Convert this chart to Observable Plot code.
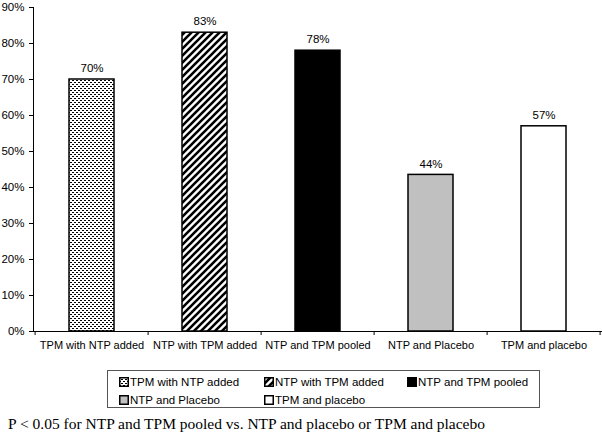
<!DOCTYPE html>
<html>
<head>
<meta charset="utf-8">
<script src="https://cdn.jsdelivr.net/npm/d3@7"></script>
<script src="https://cdn.jsdelivr.net/npm/@observablehq/plot@0.6"></script>
<style>
  html, body { margin: 0; padding: 0; background: #fff; }
  #wrap { position: relative; width: 602px; height: 437px; overflow: hidden; font-family: "Liberation Sans", Arial, sans-serif; }
  #chart { position: absolute; left: 0; top: 0; }
  #legend { position: absolute; left: 107px; top: 370px; width: 433px; height: 38px; border: 1px solid #555; box-sizing: border-box; }
  .item { position: absolute; font-size: 11.5px; line-height: 14px; color: #000; white-space: nowrap; }
  .item svg { vertical-align: -1px; margin-right: 1px; }
  #note { position: absolute; left: 8px; top: 415px; font-family: "Liberation Serif", "Times New Roman", serif; font-size: 15.5px; line-height: 18px; color: #000; white-space: nowrap; }
</style>
</head>
<body>
<svg width="0" height="0" style="position:absolute">
  <defs>
    <pattern id="pDots" patternUnits="userSpaceOnUse" width="4" height="4">
      <rect width="4" height="4" fill="#fff"/>
      <rect x="0" y="0" width="2" height="1" fill="#000"/>
      <rect x="2" y="2" width="2" height="1" fill="#000"/>
    </pattern>
    <pattern id="pDiag" patternUnits="userSpaceOnUse" width="7" height="7">
      <rect width="7" height="7" fill="#fff"/>
      <path d="M-1,1 l2,-2 M0,7 l7,-7 M6,8 l2,-2" stroke="#000" stroke-width="2.6"/>
    </pattern>
  </defs>
</svg>
<div id="wrap">
  <div id="chart"></div>
  <div id="legend"></div>
  <div id="note">P &lt; 0.05 for NTP and TPM pooled vs. NTP and placebo or TPM and placebo</div>
</div>
<script>
const categories = ["TPM with NTP added", "NTP with TPM added", "NTP and TPM pooled", "NTP and Placebo", "TPM and placebo"];
const values = [0.70, 0.83, 0.78, 0.435, 0.57];
const valueLabels = ["70%", "83%", "78%", "44%", "57%"];
const fills = ["url(#pDots)", "url(#pDiag)", "#000000", "#c0c0c0", "#ffffff"];
const yTicks = [0, 0.1, 0.2, 0.3, 0.4, 0.5, 0.6, 0.7, 0.8, 0.9];
const yTickLabels = ["0%", "10%", "20%", "30%", "40%", "50%", "60%", "70%", "80%", "90%"];

const data = categories.map((c, i) => ({cat: c, value: values[i], label: valueLabels[i], fill: fills[i]}));

const chart = Plot.plot({
  width: 602,
  height: 360,
  marginLeft: 33,
  marginRight: 0,
  marginTop: 7,
  marginBottom: 29,
  style: {fontFamily: "'Liberation Sans', Arial, sans-serif", fontSize: "11px", color: "#000", background: "transparent", overflow: "visible"},
  x: {domain: categories, paddingInner: 0.6, paddingOuter: 0.3, axis: null},
  y: {domain: [0, 0.9], axis: null},
  color: {type: "identity"},
  marks: [
    Plot.barY(data, {x: "cat", y: "value", fill: "fill", stroke: "#000", strokeWidth: 1.5}),
    Plot.text(data, {x: "cat", y: "value", text: "label", dy: -11, fontSize: 11.5}),
    Plot.axisY(yTicks, {tickFormat: (d, i) => yTickLabels[i], tickSize: 4, tickPadding: 5, label: null, fontSize: 11.5}),
    Plot.axisX(categories, {tickSize: 0, tickPadding: 10, label: null, fontSize: 11}),
    Plot.frame({anchor: "left", stroke: "#000"}),
    Plot.frame({anchor: "bottom", stroke: "#000"})
  ]
});
document.getElementById("chart").appendChild(chart);

// band boundary ticks on the x axis
const xs = chart.scale("x");
const step = xs.step;
const x0 = xs.apply(categories[0]) - step * 0.3;
const svg = d3.select(chart);
const yb = 360 - 29;
for (let k = 0; k <= categories.length; k++) {
  const xx = Math.min(x0 + k * step, 601.5);
  svg.append("line").attr("x1", xx).attr("x2", xx).attr("y1", yb).attr("y2", yb + 4).attr("stroke", "#000");
}

// legend
const legend = document.getElementById("legend");
const positions = [[11, 4], [156, 4], [299, 4], [11, 22], [156, 22]];
categories.forEach((c, i) => {
  const div = document.createElement("div");
  div.className = "item";
  div.style.left = positions[i][0] + "px";
  div.style.top = positions[i][1] + "px";
  div.innerHTML = `<svg width="10" height="10"><rect x="0.75" y="0.75" width="8.5" height="8.5" fill="${fills[i]}" stroke="#000" stroke-width="1.5"/></svg>${c}`;
  legend.appendChild(div);
});
</script>
</body>
</html>
